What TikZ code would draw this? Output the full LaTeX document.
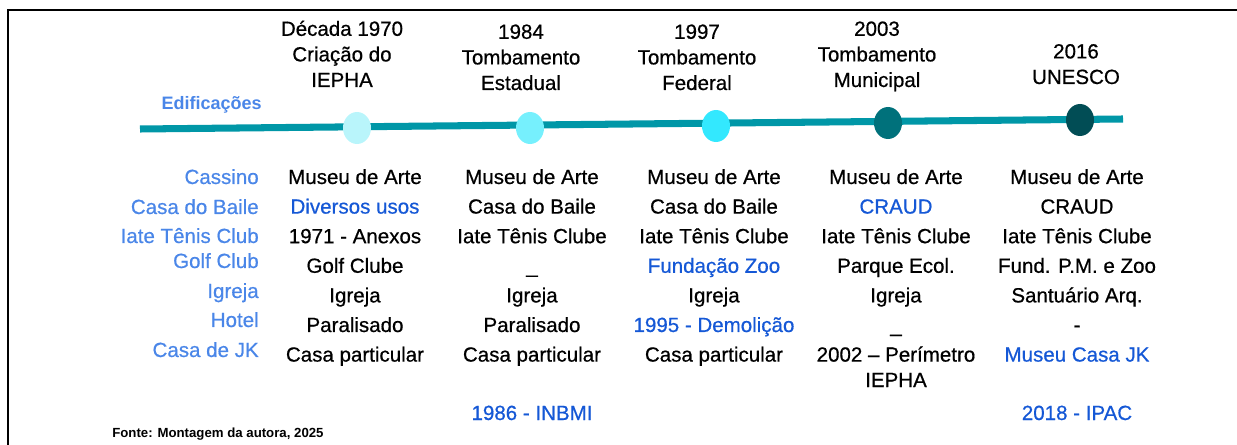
\documentclass[tikz,border=0pt]{standalone}
\usepackage{fontspec}
\setmainfont{Liberation Sans}
\newfontfamily\heavyfont{Liberation Sans}[FakeBold=0.6,Ligatures=TeX]
\usepackage{tikz}
\usetikzlibrary{positioning,shapes.geometric}
\definecolor{tl}{HTML}{0097A7}
\definecolor{lb}{HTML}{4A86E8}
\definecolor{db}{HTML}{1558D6}
\definecolor{d1}{HTML}{B9F5FB}
\definecolor{d2}{HTML}{76F0FD}
\definecolor{d3}{HTML}{33E8FE}
\definecolor{d4}{HTML}{00717B}
\definecolor{d5}{HTML}{014D55}
\begin{document}
\begin{tikzpicture}[x=0.025cm,y=-0.025cm,
  txt/.style={font=\heavyfont\fontsize{14.6}{18.2}\selectfont,inner sep=0pt,anchor=base,align=center},
  lbl/.style={txt,text=lb,anchor=base east},
  note/.style={txt,text=db},
  dot/.style={ellipse,minimum width=0.7cm,minimum height=0.8cm,inner sep=0pt},
  tline/.style={color=tl,line width=5pt}]
\useasboundingbox (0,0) rectangle (1237,445);
\draw[line width=2.1pt](8,445)--(8,10)--(1237,10);
\coordinate(ini) at (140,129);
\coordinate(fim) at (1123,119);
\draw[tline](ini)--(fim);
\foreach \x/\y/\c [count=\i] in {357/128/d1,530/128/d2,716/126/d3,888/123/d4,1080/120/d5}
  \node[dot,fill=\c](m\i) at (\x,\y){};
\node[txt](h1) at (342,87){Década 1970\\Criação do\\IEPHA};
\node[txt](h2) at (521,90){1984\\Tombamento\\Estadual};
\node[txt](h3) at (697,90){1997\\Tombamento\\Federal};
\node[txt](h4) at (877,87){2003\\Tombamento\\Municipal};
\node[txt](h5) at (1076,84){2016\\UNESCO};
\node[lbl,font=\fontsize{12.8}{15}\selectfont\bfseries](edif) at (262,110){Edificações};
\foreach \t/\y [count=\i] in {Cassino/184,Casa do Baile/214,Iate Tênis Club/243,Golf Club/268,Igreja/298,Hotel/327,Casa de JK/357}
  \node[lbl](e\i) at (259,\y){\t};
\foreach \t [count=\r] in {Museu de Arte,\textcolor{db}{Diversos usos},1971 - Anexos,Golf Clube,Igreja,Paralisado,Casa particular}
  \node[txt](a\r) at (355,{184+29.6*(\r-1)}){\t};
\foreach \t [count=\r] in {Museu de Arte,Casa do Baile,Iate Tênis Clube,\_,Igreja,Paralisado,Casa particular}
  \node[txt](b\r) at (532,{184+29.6*(\r-1)}){\t};
\foreach \t [count=\r] in {Museu de Arte,Casa do Baile,Iate Tênis Clube,\textcolor{db}{Fundação Zoo},Igreja,\textcolor{db}{1995 - Demolição},Casa particular}
  \node[txt](c\r) at (714,{184+29.6*(\r-1)}){\t};
\foreach \t [count=\r] in {Museu de Arte,\textcolor{db}{CRAUD},Iate Tênis Clube,Parque Ecol.,Igreja,\_,2002 – Perímetro}
  \node[txt](d\r) at (896,{184+29.6*(\r-1)}){\t};
\node[txt](d8) at (896,387){IEPHA};
\foreach \t [count=\r] in {Museu de Arte,CRAUD,Iate Tênis Clube,Fund. P.M. e Zoo,Santuário Arq.,-,\textcolor{db}{Museu Casa JK}}
  \node[txt](f\r) at (1077,{184+29.6*(\r-1)}){\t};
\node[note](n1) at (532,420){1986 - INBMI};
\node[note](n2) at (1077,420){2018 - IPAC};
\node[txt,anchor=base west,font=\fontsize{9.4}{11}\selectfont\bfseries](fonte) at (112,437){Fonte: Montagem da autora, 2025};
\end{tikzpicture}
\end{document}
